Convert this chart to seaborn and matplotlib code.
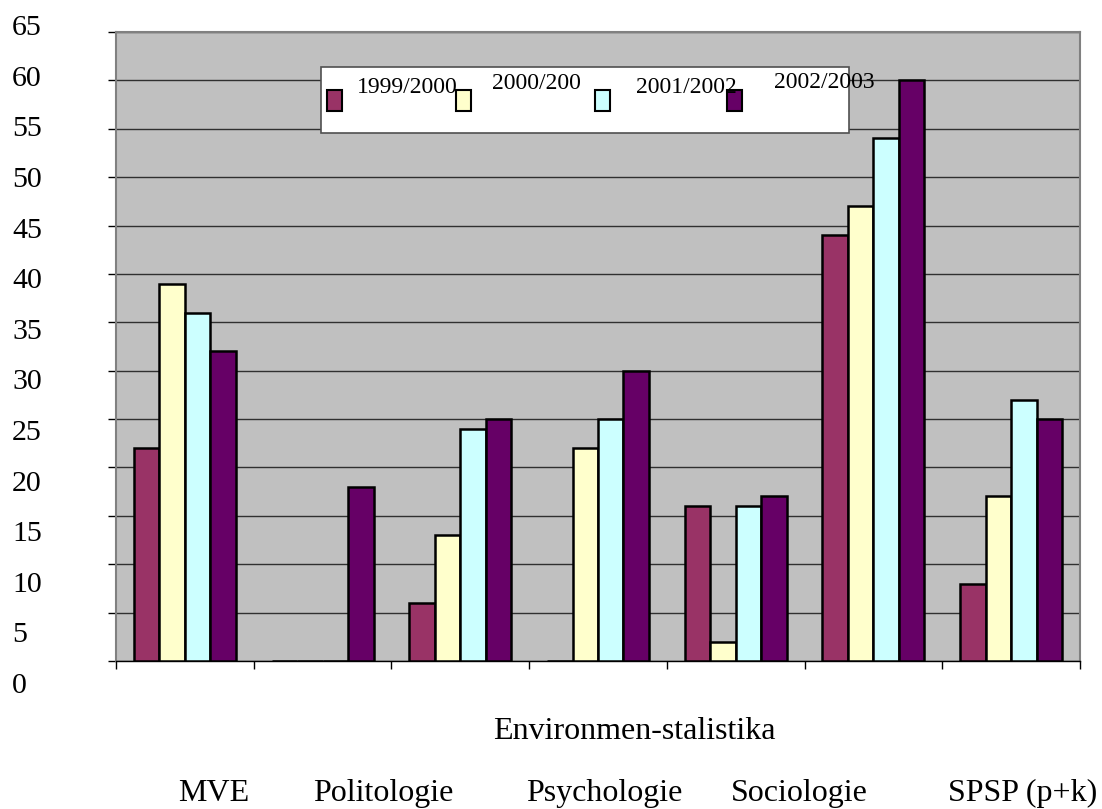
import matplotlib
matplotlib.use("Agg")
import matplotlib.pyplot as plt
from matplotlib.patches import Rectangle
import numpy as np
import pandas as pd
import seaborn as sns

W, H = 1102, 809

groups = ["g1", "g2", "g3", "g4", "g5", "g6", "g7"]
years = ["1999/2000", "2000/200", "2001/2002", "2002/2003"]
v_1999 = [22, 0, 6, 0, 16, 44, 8]
v_2000 = [39, 0, 13, 22, 2, 47, 17]
v_2001 = [36, 0, 24, 25, 16, 54, 27]
v_2002 = [32, 18, 25, 30, 17, 60, 25]
colors = ["#993366", "#FFFFCC", "#CCFFFF", "#660066"]

ytick_vals = list(range(0, 70, 5))
top_labels = ["Environmen-stalistika"]
bottom_labels = ["MVE", "Politologie", "Psychologie", "Sociologie", "SPSP (p+k)"]


def fx(x):
    return x / W


def fy(y):
    return 1 - y / H


rows = []
for yr, vals in zip(years, [v_1999, v_2000, v_2001, v_2002]):
    for g, v in zip(groups, vals):
        rows.append({"group": g, "year": yr, "value": v})
df = pd.DataFrame(rows)

plt.rcParams["font.family"] = ["Liberation Serif", "DejaVu Serif"]

fig = plt.figure(figsize=(W / 100, H / 100), dpi=100)
ax = fig.add_axes([fx(116), fy(661), fx(1080) - fx(116), fy(32) - fy(661)])
ax.set_facecolor("#C0C0C0")

sns.barplot(
    data=df, x="group", y="value", hue="year", order=groups, hue_order=years,
    palette=colors, saturation=1, width=0.74, edgecolor="black", linewidth=1.8,
    legend=False, ax=ax, zorder=3,
)

ax.set_xlim(-0.5, len(groups) - 0.5)
ax.set_ylim(0, 65)
ax.set_yticks(ytick_vals)
ax.set_yticklabels([])
ax.set_xticks(np.arange(len(groups) + 1) - 0.5)
ax.set_xticklabels([])
ax.tick_params(axis="both", direction="out", length=6, width=1, color="black")
ax.yaxis.grid(True, color="#303030", linewidth=1)
ax.set_axisbelow(True)
ax.set_xlabel("")
ax.set_ylabel("")
for side in ["left", "top", "right"]:
    ax.spines[side].set_color("#808080")
    ax.spines[side].set_linewidth(1.5)
ax.spines["bottom"].set_color("black")
ax.spines["bottom"].set_linewidth(1)

# y tick labels, spaced like in the original document
for v in ytick_vals:
    base = 693 - v / 5 * 50.6
    fig.text(fx(12), fy(base), str(v), ha="left", va="baseline", fontsize=21.5)

# category texts below the axis
fig.text(fx(634), fy(739), top_labels[0], ha="center", va="baseline", fontsize=23)
for lab, cx in zip(bottom_labels, [214, 383, 604, 799, 1023]):
    fig.text(fx(cx), fy(801), lab, ha="center", va="baseline", fontsize=23)

# legend box
fig.patches.append(Rectangle((fx(321), fy(133)), fx(849) - fx(321), fy(67) - fy(133),
                             transform=fig.transFigure, facecolor="white",
                             edgecolor="#505050", linewidth=1.2, zorder=5))
marker_x = [327, 456, 595, 727]
text_x = [357, 492, 636, 774]
text_base = [93, 89, 93, 88]
for c, yr, mx, tx, tb in zip(colors, years, marker_x, text_x, text_base):
    fig.patches.append(Rectangle((fx(mx), fy(111)), fx(15), 21 / H,
                                 transform=fig.transFigure, facecolor=c,
                                 edgecolor="black", linewidth=1.5, zorder=6))
    fig.text(fx(tx), fy(tb), yr, ha="left", va="baseline", fontsize=17, zorder=7)

fig.savefig("out.png", dpi=100)
